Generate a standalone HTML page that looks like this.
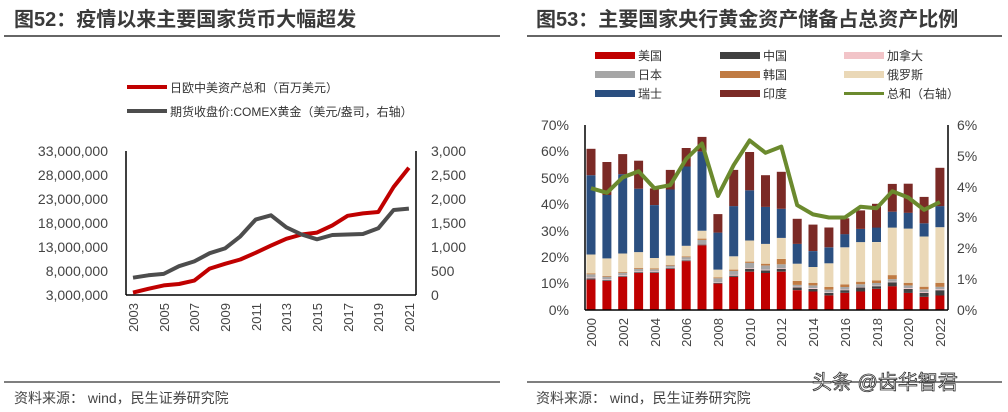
<!DOCTYPE html>
<html><head><meta charset="utf-8"><style>
body{margin:0;background:#fff;width:1008px;height:412px;overflow:hidden;font-family:"Liberation Sans","Noto Sans CJK SC",sans-serif;}
svg{position:absolute;left:0;top:0}
</style></head><body>
<svg id="s" width="1008" height="412" xmlns="http://www.w3.org/2000/svg" font-family="Liberation Sans, Noto Sans CJK SC, sans-serif">
<text x="14" y="26" font-size="20" font-weight="bold" fill="#3a3a3a">图52：疫情以来主要国家货币大幅超发</text>
<line x1="4" y1="36" x2="500" y2="36" stroke="#333" stroke-width="1.5"/>
<text x="536" y="26" font-size="20" font-weight="bold" fill="#3a3a3a">图53：主要国家央行黄金资产储备占总资产比例</text>
<line x1="527" y1="36" x2="1002" y2="36" stroke="#333" stroke-width="1.5"/>
<line x1="4" y1="382" x2="500" y2="382" stroke="#333" stroke-width="1.2"/>
<line x1="527" y1="382" x2="1002" y2="382" stroke="#333" stroke-width="1.2"/>
<text x="14" y="403" font-size="14" fill="#444">资料来源：  wind，民生证券研究院</text>
<text x="536" y="403" font-size="14" fill="#444">资料来源：  wind，民生证券研究院</text>
<text x="812" y="389" font-size="20" fill="#fff" stroke="#333" stroke-width="0.8">头条 @齿华智君</text>
<!-- left legend -->
<line x1="127" y1="87" x2="167" y2="87" stroke="#c00000" stroke-width="4"/>
<text x="170" y="92" font-size="12" fill="#333">日欧中美资产总和（百万美元）</text>
<line x1="127" y1="111" x2="167" y2="111" stroke="#4d4d4d" stroke-width="4"/>
<text x="170" y="116" font-size="12" fill="#333">期货收盘价:COMEX黄金（美元/盎司，右轴）</text>
<!-- left axes -->
<line x1="126" y1="151" x2="126" y2="295" stroke="#000" stroke-width="1.5"/>
<line x1="416" y1="151" x2="416" y2="295" stroke="#000" stroke-width="1.5"/>
<line x1="126" y1="295" x2="416" y2="295" stroke="#000" stroke-width="1.5"/>
<g font-size="14" fill="#444" text-anchor="end">
<text x="108" y="156">33,000,000</text><text x="108" y="180">28,000,000</text><text x="108" y="204">23,000,000</text><text x="108" y="228">18,000,000</text><text x="108" y="252">13,000,000</text><text x="108" y="276">8,000,000</text><text x="108" y="300">3,000,000</text>
</g>
<g font-size="14" fill="#444">
<text x="431" y="156">3,000</text><text x="431" y="180">2,500</text><text x="431" y="204">2,000</text><text x="431" y="228">1,500</text><text x="431" y="252">1,000</text><text x="431" y="276">500</text><text x="431" y="300">0</text>
</g>
<g font-size="13" fill="#444" text-anchor="end" id="lx">
<text transform="translate(138,303) rotate(-90)">2003</text>
<text transform="translate(169,303) rotate(-90)">2005</text>
<text transform="translate(199,303) rotate(-90)">2007</text>
<text transform="translate(230,303) rotate(-90)">2009</text>
<text transform="translate(261,303) rotate(-90)">2011</text>
<text transform="translate(291,303) rotate(-90)">2013</text>
<text transform="translate(322,303) rotate(-90)">2015</text>
<text transform="translate(353,303) rotate(-90)">2017</text>
<text transform="translate(383,303) rotate(-90)">2019</text>
<text transform="translate(414,303) rotate(-90)">2021</text>
</g>
<!-- right legend -->
<g font-size="12" fill="#333">
<rect x="595" y="52" width="40" height="7" fill="#c00000"/><text x="638" y="60">美国</text>
<rect x="720" y="52" width="40" height="7" fill="#404040"/><text x="763" y="60">中国</text>
<rect x="844" y="52" width="40" height="7" fill="#f2c4c8"/><text x="887" y="60">加拿大</text>
<rect x="595" y="71" width="40" height="7" fill="#a6a6a6"/><text x="638" y="79">日本</text>
<rect x="720" y="71" width="40" height="7" fill="#c07b43"/><text x="763" y="79">韩国</text>
<rect x="844" y="71" width="40" height="7" fill="#ead8b7"/><text x="887" y="79">俄罗斯</text>
<rect x="595" y="90" width="40" height="7" fill="#2b4f80"/><text x="638" y="98">瑞士</text>
<rect x="720" y="90" width="40" height="7" fill="#7b2a26"/><text x="763" y="98">印度</text>
<line x1="844" y1="93.5" x2="884" y2="93.5" stroke="#6b8a2e" stroke-width="3"/><text x="887" y="98">总和（右轴）</text>
</g>
<g font-size="14" fill="#444" text-anchor="end">
<text x="569" y="130">70%</text><text x="569" y="156">60%</text><text x="569" y="183">50%</text><text x="569" y="209">40%</text><text x="569" y="236">30%</text><text x="569" y="262">20%</text><text x="569" y="288">10%</text><text x="569" y="315">0%</text>
</g>
<g font-size="14" fill="#444">
<text x="957" y="130">6%</text><text x="957" y="161">5%</text><text x="957" y="192">4%</text><text x="957" y="222">3%</text><text x="957" y="253">2%</text><text x="957" y="284">1%</text><text x="957" y="315">0%</text>
</g>
<g font-size="13" fill="#444" text-anchor="end">
<text transform="translate(596,318) rotate(-90)">2000</text>
<text transform="translate(628,318) rotate(-90)">2002</text>
<text transform="translate(660,318) rotate(-90)">2004</text>
<text transform="translate(691,318) rotate(-90)">2006</text>
<text transform="translate(723,318) rotate(-90)">2008</text>
<text transform="translate(755,318) rotate(-90)">2010</text>
<text transform="translate(786,318) rotate(-90)">2012</text>
<text transform="translate(818,318) rotate(-90)">2014</text>
<text transform="translate(850,318) rotate(-90)">2016</text>
<text transform="translate(882,318) rotate(-90)">2018</text>
<text transform="translate(913,318) rotate(-90)">2020</text>
<text transform="translate(945,318) rotate(-90)">2022</text>
</g>
<g id="bars"></g>
<line x1="585" y1="125" x2="585" y2="310" stroke="#000" stroke-width="1.5"/>
<line x1="948" y1="125" x2="948" y2="310" stroke="#000" stroke-width="1.5"/>
<line x1="585" y1="310" x2="948" y2="310" stroke="#000" stroke-width="1.5"/>
<g id="lines"></g>
</svg>
<script>
var NS="http://www.w3.org/2000/svg";
function el(p,t,a){var e=document.createElementNS(NS,t);for(var k in a)e.setAttribute(k,a[k]);p.appendChild(e);return e;}
var L=document.getElementById('lines'),B=document.getElementById('bars');
var red=[3.5,4.3,5,5.3,6,8.5,9.5,10.4,11.8,13.3,14.7,15.6,16,17.5,19.5,20,20.3,25.5,29.5];
var gold=[360,410,440,600,700,870,970,1220,1570,1660,1410,1260,1160,1250,1260,1270,1390,1770,1800];
function pts(a,f){return a.map(function(v,i){return (133+i*15.33).toFixed(1)+","+f(v).toFixed(1)}).join(" ");}
el(L,'polyline',{points:pts(red,function(v){return 295-(v-3)/30*144}),fill:'none',stroke:'#c00000','stroke-width':4,'stroke-linejoin':'round'});
el(L,'polyline',{points:pts(gold,function(v){return 295-v/3000*144}),fill:'none',stroke:'#4d4d4d','stroke-width':4,'stroke-linejoin':'round'});
var cols=['#c00000','#404040','#f2c4c8','#a6a6a6','#c07b43','#ead8b7','#2b4f80','#7b2a26'];
var d=[[11.5,.5,.3,1.2,.3,7.2,30,10],[11,.3,.3,1,.3,6.6,24,12.5],[12.5,.3,.3,1,.3,7,30,7.6],[14,.3,.3,1,.3,6,24,10.6],[14,.3,.3,.8,.3,4,20,6.3],[15.5,.3,.2,.8,.3,3.5,25,7.4],[18.5,.3,.2,1,.3,4,30,7],[24.5,.3,.2,1.5,.5,3,30,5.5],[10,.3,.2,1.5,.3,3,14,7],[12.5,.5,.3,1.5,.5,5,19,13.7],[14.5,1,.3,2,.5,8,19,14.5],[14,1,.3,1.5,.7,7.5,14,12],[14.5,1,.3,1.5,2,8,11,14],[7.5,1,.3,.7,1.5,6.5,7.5,9.5],[7,1,.3,1,1,6,6,10],[5.5,1,.2,1,1,9,6,7.5],[6.5,1,.2,1,1,14,5,6],[7,1.5,.2,1,1,15,5,7],[8,1,.2,1,1,14.5,5.5,9],[9,1.5,.2,1,1.5,18,6,10.5],[6.5,1.5,.3,1,1,20.5,6,11],[5,1.5,.3,1,1,19,5,10],[5.5,2,.3,1,1.5,21,8,14.5]];
var k=185/70;
d.forEach(function(r,i){var x=591+i*15.86,y=310;r.forEach(function(v,j){var h=v*k;y-=h;el(B,'rect',{x:(x-4.5).toFixed(1),y:y.toFixed(1),width:9,height:h.toFixed(1),fill:cols[j]});});});
var g=[3.95,3.8,4.3,4.5,3.95,4.05,4.9,5.4,3.7,4.7,5.5,5.1,5.3,3.4,3.1,3.0,3.0,3.35,3.3,3.85,3.65,3.25,3.5];
el(L,'polyline',{points:g.map(function(v,i){return (591+i*15.86).toFixed(1)+","+(310-v*185/6).toFixed(1)}).join(" "),fill:'none',stroke:'#6b8a2e','stroke-width':4,'stroke-linejoin':'round'});
</script>
</body></html>
